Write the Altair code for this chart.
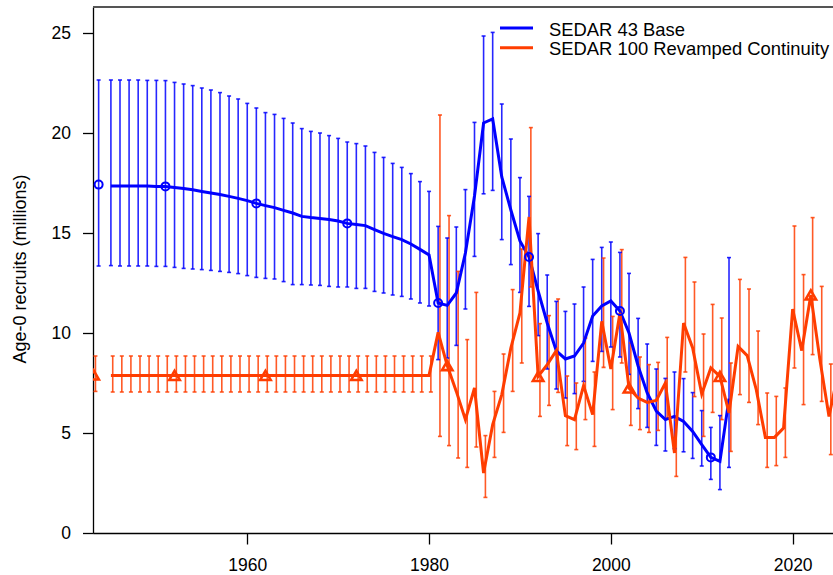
import altair as alt
import pandas as pd

FONT = "Liberation Sans"
BLUE_NAME = "SEDAR 43 Base"
ORANGE_NAME = "SEDAR 100 Revamped Continuity"
BLUE = "#0000FF"
ORANGE = "#FF3D00"

# ---------------- SEDAR 43 Base (blue) ----------------
blue_years = list(range(1945, 2014))
blue_est = [17.35, 17.35, 17.35, 17.35, 17.35, 17.33, 17.33, 17.28, 17.23, 17.16,
            17.08, 17.00, 16.92, 16.83, 16.73, 16.62, 16.48, 16.37, 16.27, 16.13,
            16.00, 15.83, 15.77, 15.73, 15.68, 15.60, 15.48, 15.42, 15.37, 15.17,
            14.98, 14.82, 14.67, 14.45, 14.18, 13.90, 11.50, 11.38, 12.00, 14.00,
            16.85, 20.50, 20.70, 17.80, 16.15, 14.60, 13.80, 12.10, 10.50, 9.10,
            8.70, 8.85, 9.50, 10.85, 11.35, 11.60, 11.10, 10.00, 8.35, 7.00,
            6.10, 5.67, 5.83, 5.58, 5.08, 4.42, 3.78, 3.58, 6.72]
blue_hi = [22.65, 22.65, 22.65, 22.65, 22.63, 22.63, 22.62, 22.53, 22.45, 22.37,
           22.25, 22.15, 22.02, 21.85, 21.70, 21.48, 21.25, 21.02, 20.93, 20.73,
           20.50, 20.22, 20.08, 20.00, 19.87, 19.73, 19.55, 19.47, 19.35, 19.03,
           18.78, 18.48, 18.28, 17.97, 17.57, 17.08, 15.33, 14.75, 15.30, 17.17,
           20.53, 24.85, 25.03, 21.45, 19.70, 17.77, 16.83, 14.97, 12.90, 11.58,
           11.08, 11.45, 12.30, 13.68, 14.28, 14.55, 14.03, 12.98, 10.73, 9.45,
           8.20, 7.73, 8.05, 7.72, 7.02, 6.12, 5.28, 5.87, 13.77]
blue_lo = [13.37, 13.35, 13.35, 13.35, 13.35, 13.33, 13.33, 13.28, 13.23, 13.20,
           13.17, 13.13, 13.08, 13.03, 12.97, 12.87, 12.78, 12.73, 12.70, 12.57,
           12.42, 12.42, 12.40, 12.38, 12.33, 12.30, 12.30, 12.23, 12.23, 12.08,
           12.00, 11.90, 11.83, 11.70, 11.50, 11.35, 8.67, 8.75, 9.38, 11.20,
           13.83, 16.96, 17.13, 14.67, 13.42, 12.03, 11.33, 9.87, 8.20, 7.20,
           6.75, 6.97, 7.58, 8.58, 9.08, 9.30, 8.80, 7.93, 6.22, 5.28,
           4.38, 4.10, 4.22, 4.06, 3.73, 3.35, 2.68, 2.17, 3.28]
blue_marker_years = [1951, 1961, 1971, 1981, 1991, 2001, 2011]
blue_virgin_year = 1943.65
blue_virgin = [17.42, 22.65, 13.35]  # estimate, upper, lower

# ------------- SEDAR 100 Revamped Continuity (orange) -------------
orange_years = list(range(1945, 2026))
orange_est = [7.88, 7.88, 7.88, 7.88, 7.88, 7.88, 7.88, 7.88, 7.88, 7.88,
              7.88, 7.88, 7.88, 7.88, 7.88, 7.88, 7.88, 7.88, 7.88, 7.88,
              7.88, 7.88, 7.88, 7.88, 7.88, 7.88, 7.88, 7.88, 7.88, 7.88,
              7.88, 7.88, 7.88, 7.88, 7.88, 7.88, 10.03, 8.37, 7.08, 5.67,
              7.25, 3.00, 5.42, 6.92, 9.25, 11.00, 15.80, 7.83, 8.42, 9.12,
              5.87, 5.67, 7.37, 5.92, 10.58, 8.20, 11.00, 7.25, 6.75, 6.53,
              6.63, 7.50, 4.00, 10.50, 9.25, 6.95, 8.25, 7.83, 6.00, 9.33,
              8.87, 7.17, 4.78, 4.78, 5.25, 11.20, 9.12, 11.90, 8.67, 5.83,
              8.00]
orange_hi = [8.85, 8.85, 8.85, 8.85, 8.85, 8.85, 8.85, 8.85, 8.85, 8.85,
             8.85, 8.85, 8.85, 8.85, 8.85, 8.85, 8.85, 8.85, 8.85, 8.85,
             8.85, 8.85, 8.85, 8.85, 8.85, 8.85, 8.85, 8.85, 8.85, 8.85,
             8.85, 8.85, 8.85, 8.85, 8.85, 8.85, 20.90, 15.87, 13.08, 9.67,
             12.03, 4.87, 7.08, 8.95, 12.17, 14.20, 20.27, 10.47, 10.87, 11.70,
             7.85, 7.50, 9.75, 8.05, 13.75, 10.83, 14.17, 9.50, 8.80, 8.42,
             8.53, 9.78, 5.65, 13.78, 12.55, 9.95, 11.43, 10.75, 8.50, 12.68,
             12.20, 10.10, 7.00, 6.83, 7.25, 15.35, 12.92, 15.77, 12.33, 8.45,
             11.00]
orange_lo = [7.05, 7.05, 7.05, 7.05, 7.05, 7.05, 7.05, 7.05, 7.05, 7.05,
             7.05, 7.05, 7.05, 7.05, 7.05, 7.05, 7.05, 7.05, 7.05, 7.05,
             7.05, 7.05, 7.05, 7.05, 7.05, 7.05, 7.05, 7.05, 7.05, 7.05,
             7.05, 7.05, 7.05, 7.05, 7.05, 7.05, 4.83, 4.37, 3.75, 3.28,
             4.30, 1.78, 3.78, 5.03, 7.08, 8.50, 12.30, 5.83, 6.38, 7.03,
             4.37, 4.17, 5.67, 4.33, 8.28, 6.17, 8.50, 5.38, 5.17, 5.03,
             5.13, 5.75, 2.83, 8.05, 6.82, 4.83, 6.03, 5.67, 4.08, 6.92,
             6.53, 5.42, 3.28, 3.37, 3.78, 8.25, 6.42, 8.92, 6.58, 3.92,
             5.80]
orange_marker_years = [1952, 1962, 1972, 1982, 1992, 2002, 2012, 2022]
orange_virgin_year = 1943.10
orange_virgin = [7.90, 8.85, 7.08]

bar_shift = {BLUE_NAME: 0.0, ORANGE_NAME: 0.2}

# ---------------- build tables ----------------
line_rows, bar_rows, mark_rows = [], [], []
for name, yrs, est, hi, lo, myrs, vyr, vir in [
    (BLUE_NAME, blue_years, blue_est, blue_hi, blue_lo, blue_marker_years, blue_virgin_year, blue_virgin),
    (ORANGE_NAME, orange_years, orange_est, orange_hi, orange_lo, orange_marker_years, orange_virgin_year, orange_virgin),
]:
    for y, e, h, l in zip(yrs, est, hi, lo):
        line_rows.append({"year": y, "value": e, "series": name})
        bar_rows.append({"year": y + bar_shift[name], "hi": h, "lo": l, "series": name})
        if y in myrs:
            mark_rows.append({"year": y, "value": e, "series": name})
    bar_rows.append({"year": vyr + bar_shift[name], "hi": vir[1], "lo": vir[2], "series": name})
    mark_rows.append({"year": vyr, "value": vir[0], "series": name})

line_df = pd.DataFrame(line_rows)
bar_df = pd.DataFrame(bar_rows)
mark_df = pd.DataFrame(mark_rows)

x_scale = alt.Scale(domain=[1943.03, 2024.44], nice=False, zero=False)
y_scale = alt.Scale(domain=[0, 26.3], nice=False, zero=False)
color_scale = alt.Scale(domain=[BLUE_NAME, ORANGE_NAME], range=[BLUE, ORANGE])

x_axis = alt.Axis(values=[1960, 1980, 2000, 2020], format="d", title=None, grid=False,
                  tickSize=11, tickWidth=1.3, domainWidth=1.3, domainColor="black",
                  tickColor="black", labelColor="black", labelFontSize=17.5,
                  labelPadding=12.5, labelFont=FONT, labelFlush=False)
y_axis = alt.Axis(values=[0, 5, 10, 15, 20, 25], title="Age-0 recruits (millions)", grid=False,
                  tickSize=10.5, tickWidth=1.3, domainWidth=1.3, domainColor="black",
                  tickColor="black", labelColor="black", labelFontSize=17.5,
                  labelPadding=12, labelFont=FONT, titleFont=FONT, titleFontSize=18,
                  titleFontWeight="normal", titleColor="black", titleAngle=-90,
                  titleX=-68, titleY=261.5, titleAlign="center", titleBaseline="alphabetic")

X = lambda f: alt.X(f, type="quantitative", scale=x_scale, axis=x_axis)
Y = lambda f: alt.Y(f, type="quantitative", scale=y_scale, axis=y_axis)
C = alt.Color("series:N", scale=color_scale, legend=None)

bars = alt.Chart(bar_df).mark_rule(strokeWidth=1.6, opacity=0.85, clip=True).encode(
    x=X("year"), y=Y("lo"), y2="hi", color=C)
cap_hi = alt.Chart(bar_df).mark_tick(orient="horizontal", size=4, thickness=1.6, opacity=0.85, clip=True).encode(
    x=X("year"), y=Y("hi"), color=C)
cap_lo = alt.Chart(bar_df).mark_tick(orient="horizontal", size=4, thickness=1.6, opacity=0.85, clip=True).encode(
    x=X("year"), y=Y("lo"), color=C)
lines = alt.Chart(line_df).mark_line(strokeWidth=3, clip=True).encode(
    x=X("year"), y=Y("value"), color=C, detail="series:N")
circles = alt.Chart(mark_df[mark_df.series == BLUE_NAME]).mark_point(
    shape="circle", size=64, filled=False, strokeWidth=2, opacity=1, clip=True).encode(
    x=X("year"), y=Y("value"), color=C)
triangles = alt.Chart(mark_df[mark_df.series == ORANGE_NAME]).mark_point(
    shape="triangle-up", size=110, filled=False, strokeWidth=2.6, opacity=1, clip=True).encode(
    x=X("year"), y=Y("value"), color=C)

frame_top = alt.Chart(pd.DataFrame({"a": [0]})).mark_rule(color="#555555", strokeWidth=2.2).encode(
    x=alt.value(0), x2=alt.value(740), y=alt.value(0))

legend_layers = []
for i, (name, col) in enumerate([(BLUE_NAME, BLUE), (ORANGE_NAME, ORANGE)]):
    d = pd.DataFrame({"name": [name]})
    legend_layers.append(alt.Chart(d).mark_rule(color=col, strokeWidth=3).encode(
        x=alt.value(407), x2=alt.value(440), y=alt.value(21 + i * 19.7)))
    legend_layers.append(alt.Chart(d).mark_text(
        align="left", baseline="alphabetic", fontSize=18.4, font=FONT, color="black").encode(
        x=alt.value(456), y=alt.value(29 + i * 19), text="name:N"))

chart = alt.layer(bars, cap_hi, cap_lo, lines, circles, triangles, frame_top, *legend_layers).properties(
    width=740, height=526,
    autosize=alt.AutoSizeParams(type="none"),
    padding={"left": 93, "top": 7, "right": 0, "bottom": 42},
).configure_view(stroke=None).configure(background="white")

chart.save("out.html", embed_options={"renderer": "svg", "actions": False})
